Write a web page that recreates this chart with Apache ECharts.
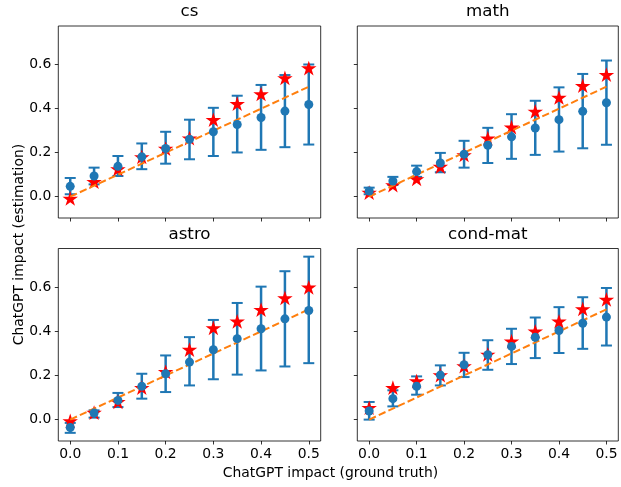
<!DOCTYPE html>
<html><head><meta charset="utf-8">
<script src="https://cdn.jsdelivr.net/npm/echarts@6/dist/echarts.min.js"></script>
<style>html,body{margin:0;padding:0;background:#fff}#c{width:621px;height:487px}</style>
</head><body><div id="c"></div>
<script>
// ---- data ----
const groundTruth = [0, 0.05, 0.1, 0.15, 0.2, 0.25, 0.3, 0.35, 0.4, 0.45, 0.5];
const panelNames = ['cs', 'math', 'astro', 'cond-mat'];

const csMean  = [0.047, 0.094, 0.138, 0.181, 0.219, 0.261, 0.295, 0.328, 0.360, 0.389, 0.419];
const csLow   = [0.011, 0.056, 0.094, 0.125, 0.150, 0.170, 0.185, 0.201, 0.213, 0.225, 0.237];
const csHigh  = [0.085, 0.132, 0.185, 0.242, 0.295, 0.350, 0.404, 0.459, 0.508, 0.553, 0.601];
const csStar  = [-0.005, 0.071, 0.129, 0.184, 0.222, 0.269, 0.353, 0.426, 0.470, 0.543, 0.588];

const mathMean = [0.026, 0.071, 0.114, 0.153, 0.193, 0.234, 0.272, 0.312, 0.350, 0.388, 0.427];
const mathLow  = [0.011, 0.053, 0.090, 0.111, 0.132, 0.153, 0.172, 0.190, 0.205, 0.220, 0.236];
const mathHigh = [0.041, 0.090, 0.141, 0.199, 0.254, 0.313, 0.375, 0.436, 0.497, 0.558, 0.619];
const mathStar = [0.022, 0.056, 0.084, 0.140, 0.193, 0.269, 0.319, 0.391, 0.454, 0.508, 0.558];

const astroMean = [-0.036, 0.030, 0.087, 0.151, 0.208, 0.261, 0.317, 0.367, 0.412, 0.457, 0.495];
const astroLow  = [-0.060, 0.009, 0.057, 0.095, 0.125, 0.155, 0.183, 0.204, 0.223, 0.241, 0.256];
const astroHigh = [-0.015, 0.042, 0.121, 0.208, 0.291, 0.374, 0.452, 0.529, 0.603, 0.673, 0.739];
const astroStar = [-0.003, 0.035, 0.084, 0.148, 0.220, 0.321, 0.419, 0.449, 0.502, 0.555, 0.603];

const condMean = [0.039, 0.095, 0.151, 0.202, 0.249, 0.294, 0.332, 0.373, 0.404, 0.437, 0.465];
const condLow  = [0.000, 0.060, 0.113, 0.155, 0.193, 0.226, 0.252, 0.279, 0.302, 0.321, 0.336];
const condHigh = [0.080, 0.133, 0.196, 0.246, 0.303, 0.360, 0.412, 0.463, 0.510, 0.555, 0.597];
const condStar = [0.057, 0.148, 0.178, 0.205, 0.246, 0.299, 0.359, 0.404, 0.449, 0.505, 0.548];

const xTicks = [0, 0.1, 0.2, 0.3, 0.4, 0.5];
const yTicks = [0, 0.2, 0.4, 0.6];
const diagonal = [[0, 0], [0.5, 0.5]];
const xLabelText = 'ChatGPT impact (ground truth)';
const yLabelText = 'ChatGPT impact (estimation)';

// ---- layout / style ----
const panels = [
  {mean: csMean, low: csLow, high: csHigh, star: csStar},
  {mean: mathMean, low: mathLow, high: mathHigh, star: mathStar},
  {mean: astroMean, low: astroLow, high: astroHigh, star: astroStar},
  {mean: condMean, low: condLow, high: condHigh, star: condStar}
];
const grids = [
  {left: 58.3, top: 26, width: 262.4, height: 192},
  {left: 357.3, top: 26, width: 261, height: 192},
  {left: 58.3, top: 248.5, width: 262.4, height: 192.5},
  {left: 357.3, top: 248.5, width: 261, height: 192.5}
];
const BLUE = '#1f77b4', ORANGE = '#ff7f0e', RED = '#ff0000';
const FONT = 'DejaVu Sans';
const STAR = 'path://M0 -1 L0.2245 -0.309 L0.9511 -0.309 L0.3633 0.118 L0.5878 0.809 L0 0.382 L-0.5878 0.809 L-0.3633 0.118 L-0.9511 -0.309 L-0.2245 -0.309 Z';

function renderErr(params, api) {
  const x = api.value(0), lo = api.value(1), hi = api.value(2);
  const t = api.coord([x, hi]), b = api.coord([x, lo]);
  const cw = 5.5;
  return {type: 'group', children: [
    {type: 'line', shape: {x1: t[0], y1: t[1], x2: b[0], y2: b[1]}, style: {stroke: BLUE, lineWidth: 2.5}},
    {type: 'line', shape: {x1: t[0] - cw, y1: t[1], x2: t[0] + cw, y2: t[1]}, style: {stroke: BLUE, lineWidth: 2}},
    {type: 'line', shape: {x1: b[0] - cw, y1: b[1], x2: b[0] + cw, y2: b[1]}, style: {stroke: BLUE, lineWidth: 2}}
  ]};
}

const option = {
  animation: false,
  backgroundColor: '#fff',
  grid: grids.map(g => Object.assign({show: true, borderColor: '#000', borderWidth: 0.8, containLabel: false, outerBoundsMode: 'none'}, g)),
  xAxis: grids.map((g, i) => ({
    type: 'value', gridIndex: i, min: -0.025, max: 0.525, position: 'bottom',
    axisLine: {show: false, onZero: false}, splitLine: {show: false},
    axisTick: {show: true, inside: false, length: 3.5, customValues: xTicks, lineStyle: {color: '#000', width: 0.8}},
    axisLabel: {show: i >= 2, customValues: xTicks, margin: 6, color: '#000', fontFamily: FONT, fontSize: 13.9,
      formatter: v => v.toFixed(1)}
  })),
  yAxis: grids.map((g, i) => ({
    type: 'value', gridIndex: i, min: -0.097, max: 0.776, position: 'left',
    axisLine: {show: false, onZero: false}, splitLine: {show: false},
    axisTick: {show: true, inside: false, length: 3.5, customValues: yTicks, lineStyle: {color: '#000', width: 0.8}},
    axisLabel: {show: i % 2 === 0, customValues: yTicks, margin: 7, color: '#000', fontFamily: FONT, fontSize: 13.9,
      formatter: v => v.toFixed(1)}
  })),
  series: [],
  graphic: []
};

panels.forEach((p, i) => {
  option.series.push({
    type: 'custom', xAxisIndex: i, yAxisIndex: i, z: 2,
    renderItem: renderErr, encode: {x: 0, y: [1, 2]},
    data: groundTruth.map((x, k) => [x, p.low[k], p.high[k]])
  });
  option.series.push({
    type: 'scatter', xAxisIndex: i, yAxisIndex: i, z: 3,
    symbol: STAR, symbolSize: [15.5, 14.7], symbolOffset: [0, 0.7],
    itemStyle: {color: RED, opacity: 1},
    data: groundTruth.map((x, k) => [x, p.star[k]])
  });
  option.series.push({
    type: 'line', xAxisIndex: i, yAxisIndex: i, z: 4,
    symbol: 'none', lineStyle: {color: ORANGE, width: 2, type: [7.4, 3.2]},
    data: diagonal
  });
  option.series.push({
    type: 'scatter', xAxisIndex: i, yAxisIndex: i, z: 5,
    symbol: 'circle', symbolSize: 9,
    itemStyle: {color: BLUE, opacity: 1},
    data: groundTruth.map((x, k) => [x, p.mean[k]])
  });
  const g = grids[i];
  option.graphic.push({
    type: 'text', x: g.left + g.width / 2, y: g.top - 14,
    style: {text: panelNames[i], fill: '#000', font: '16.7px "' + FONT + '"', textAlign: 'center', textVerticalAlign: 'middle'}
  });
});

option.graphic.push({
  type: 'text', x: 330.5, y: 473.5,
  style: {text: xLabelText, fill: '#000', font: '13.9px "' + FONT + '"', textAlign: 'center', textVerticalAlign: 'middle'}
});
option.graphic.push({
  type: 'text', x: 19, y: 244.5, rotation: Math.PI / 2,
  style: {text: yLabelText, fill: '#000', font: '13.9px "' + FONT + '"', textAlign: 'center', textVerticalAlign: 'middle'}
});

const chart = echarts.init(document.getElementById('c'), null, {renderer: 'canvas'});
chart.setOption(option);
</script>
</body></html>
